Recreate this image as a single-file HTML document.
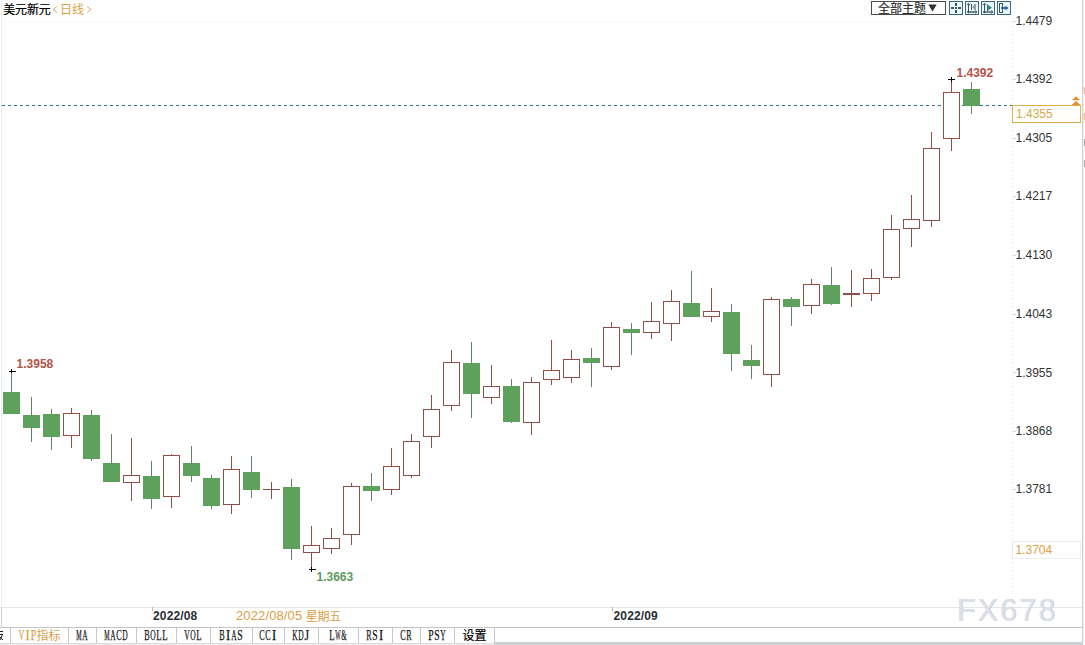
<!DOCTYPE html>
<html><head><meta charset="utf-8"><title>chart</title>
<style>
html,body{margin:0;padding:0;background:#fff;}
body{width:1085px;height:645px;overflow:hidden;font-family:"Liberation Sans",sans-serif;}
svg{display:block;}
text{font-family:"Liberation Sans",sans-serif;}
.b{font-weight:bold;}
.tab{font-family:"Liberation Serif",serif;font-size:14.5px;}
.cjk{font-family:"Liberation Sans","Noto Sans CJK SC",sans-serif;}
</style></head><body>
<svg width="1085" height="645" viewBox="0 0 1085 645">
<rect width="1085" height="645" fill="#fff"/>
<!-- faint grid -->
<rect x="1" y="0" width="1" height="607" fill="#ececec"/><rect x="1" y="607" width="1" height="20" fill="#d2d2d2"/>
<line x1="4" y1="21.5" x2="1012" y2="21.5" stroke="#f1f1f1" stroke-width="1" stroke-dasharray="2 2"/>
<line x1="1012.5" y1="18" x2="1012.5" y2="607" stroke="#efefef" stroke-width="1" stroke-dasharray="2 2"/>
<rect x="1082" y="0" width="1" height="645" fill="#d0d0d0"/><rect x="1083" y="0" width="1" height="645" fill="#f0f0f0"/>
<rect x="0" y="607" width="1082" height="1" fill="#e6e6e6"/>
<!-- title -->
<text x="3.3" y="14.2" font-size="12" class="cjk" fill="#000" stroke="#000" stroke-width="0.2" letter-spacing="-0.2">美元新元</text>
<path d="M57 6.5 L53 9.5 L57 12.5" fill="none" stroke="#dcae62" stroke-width="1"/>
<text x="60" y="14" font-size="12" class="cjk" fill="#dba046">日线</text>
<path d="M87 6.5 L91 9.5 L87 12.5" fill="none" stroke="#dcae62" stroke-width="1"/>
<!-- dropdown -->
<rect x="871.5" y="1.5" width="74" height="13" fill="#fff" stroke="#4a4a4a" stroke-width="1"/>
<text x="878" y="13" font-size="12" class="cjk" fill="#2a2a2a" stroke="#2a2a2a" stroke-width="0.15">全部主题</text>
<path d="M928.3 4.5 H936.7 L932.5 11.5Z" fill="#333"/>
<rect x="949.5" y="1.5" width="13" height="13" fill="#e8fafd" stroke="#3d6676" stroke-width="1"/>
<rect x="965.5" y="1.5" width="13" height="13" fill="#e8fafd" stroke="#3d6676" stroke-width="1"/>
<rect x="981.5" y="1.5" width="13" height="13" fill="#e8fafd" stroke="#3d6676" stroke-width="1"/>
<rect x="997.5" y="1.5" width="13" height="13" fill="#e8fafd" stroke="#3d6676" stroke-width="1"/>
<rect x="951" y="7" width="3" height="2" fill="#3f5560"/><rect x="955" y="7" width="2" height="2" fill="#3f5560"/><rect x="958" y="7" width="3" height="2" fill="#3f5560"/>
<rect x="955" y="3" width="2" height="3" fill="#3f5560"/><rect x="955" y="10" width="2" height="3" fill="#3f5560"/>
<path d="M968.5 3.5 V13.3" fill="none" stroke="#3f5560" stroke-width="1"/><path d="M967 12 H977" fill="none" stroke="#2f444e" stroke-width="1.3"/>
<path d="M967 5.2 L968.5 3.2 L970 5.2 M975.2 10.5 L977 12 L975.2 13.5" fill="none" stroke="#3f5560" stroke-width="0.9"/>
<path d="M984.5 3.5 V13.3" fill="none" stroke="#3f5560" stroke-width="1"/><path d="M983 12 H993" fill="none" stroke="#2f444e" stroke-width="1.3"/>
<path d="M983 5.2 L984.5 3.2 L986 5.2 M991.2 10.5 L993 12 L991.2 13.5" fill="none" stroke="#3f5560" stroke-width="0.9"/>
<path d="M971.5 4 V10 M975 4 V10" fill="none" stroke="#3f5560" stroke-width="1"/><path d="M974.5 4.8 L972.3 7 L974.5 9.2Z" fill="#7d949c"/>
<rect x="987" y="4.5" width="1" height="6.5" fill="#3f5560"/><path d="M987.5 4.6 L992 7.7 L987.5 10.8Z" fill="#2f8a86"/>
<rect x="999.5" y="3.5" width="3" height="9" fill="#fff" stroke="#3f5560" stroke-width="1"/>
<path d="M1001 7 H1005.3 V5.6 L1008.7 8 L1005.3 10.4 V9 H1001Z" fill="#2d6ca8"/>
<!-- dashed price line -->
<line x1="2" y1="105.5" x2="1012" y2="105.5" stroke="#2f7088" stroke-width="1" stroke-dasharray="3 3"/>
<rect x="11" y="372" width="1" height="42" fill="#61836a"/>
<rect x="3" y="392" width="17" height="22" fill="#5ea15d"/>
<rect x="31" y="397" width="1" height="45" fill="#61836a"/>
<rect x="23" y="415" width="17" height="13" fill="#5ea15d"/>
<rect x="51" y="409" width="1" height="41" fill="#61836a"/>
<rect x="43" y="414" width="17" height="23" fill="#5ea15d"/>
<rect x="71" y="408" width="1" height="5" fill="#8f4f49"/>
<rect x="71" y="436" width="1" height="12" fill="#8f4f49"/>
<rect x="63.5" y="413.5" width="16" height="22" fill="#fff" stroke="#8f4f49" stroke-width="1"/>
<rect x="91" y="410" width="1" height="51" fill="#61836a"/>
<rect x="83" y="415" width="17" height="44" fill="#5ea15d"/>
<rect x="111" y="434" width="1" height="48" fill="#61836a"/>
<rect x="103" y="463" width="17" height="19" fill="#5ea15d"/>
<rect x="131" y="438" width="1" height="37" fill="#8f4f49"/>
<rect x="131" y="483" width="1" height="18" fill="#8f4f49"/>
<rect x="123.5" y="475.5" width="16" height="7" fill="#fff" stroke="#8f4f49" stroke-width="1"/>
<rect x="151" y="461" width="1" height="48" fill="#61836a"/>
<rect x="143" y="476" width="17" height="23" fill="#5ea15d"/>
<rect x="171" y="454" width="1" height="1" fill="#8f4f49"/>
<rect x="171" y="497" width="1" height="11" fill="#8f4f49"/>
<rect x="163.5" y="455.5" width="16" height="41" fill="#fff" stroke="#8f4f49" stroke-width="1"/>
<rect x="191" y="446" width="1" height="36" fill="#61836a"/>
<rect x="183" y="463" width="17" height="13" fill="#5ea15d"/>
<rect x="211" y="475" width="1" height="34" fill="#61836a"/>
<rect x="203" y="478" width="17" height="28" fill="#5ea15d"/>
<rect x="231" y="456" width="1" height="13" fill="#8f4f49"/>
<rect x="231" y="505" width="1" height="9" fill="#8f4f49"/>
<rect x="223.5" y="469.5" width="16" height="35" fill="#fff" stroke="#8f4f49" stroke-width="1"/>
<rect x="251" y="456" width="1" height="42" fill="#61836a"/>
<rect x="243" y="472" width="17" height="18" fill="#5ea15d"/>
<rect x="271" y="482" width="1" height="17" fill="#8f4f49"/>
<rect x="263" y="489" width="17" height="1" fill="#8f4f49"/>
<rect x="291" y="479" width="1" height="81" fill="#61836a"/>
<rect x="283" y="487" width="17" height="62" fill="#5ea15d"/>
<rect x="311" y="526" width="1" height="19" fill="#8f4f49"/>
<rect x="311" y="553" width="1" height="17" fill="#8f4f49"/>
<rect x="303.5" y="545.5" width="16" height="7" fill="#fff" stroke="#8f4f49" stroke-width="1"/>
<rect x="331" y="528" width="1" height="10" fill="#8f4f49"/>
<rect x="331" y="549" width="1" height="5" fill="#8f4f49"/>
<rect x="323.5" y="538.5" width="16" height="10" fill="#fff" stroke="#8f4f49" stroke-width="1"/>
<rect x="351" y="483" width="1" height="3" fill="#8f4f49"/>
<rect x="351" y="535" width="1" height="10" fill="#8f4f49"/>
<rect x="343.5" y="486.5" width="16" height="48" fill="#fff" stroke="#8f4f49" stroke-width="1"/>
<rect x="371" y="473" width="1" height="28" fill="#61836a"/>
<rect x="363" y="486" width="17" height="5" fill="#5ea15d"/>
<rect x="391" y="448" width="1" height="18" fill="#8f4f49"/>
<rect x="391" y="490" width="1" height="5" fill="#8f4f49"/>
<rect x="383.5" y="466.5" width="16" height="23" fill="#fff" stroke="#8f4f49" stroke-width="1"/>
<rect x="411" y="434" width="1" height="7" fill="#8f4f49"/>
<rect x="411" y="476" width="1" height="2" fill="#8f4f49"/>
<rect x="403.5" y="441.5" width="16" height="34" fill="#fff" stroke="#8f4f49" stroke-width="1"/>
<rect x="431" y="395" width="1" height="14" fill="#8f4f49"/>
<rect x="431" y="437" width="1" height="11" fill="#8f4f49"/>
<rect x="423.5" y="409.5" width="16" height="27" fill="#fff" stroke="#8f4f49" stroke-width="1"/>
<rect x="451" y="350" width="1" height="12" fill="#8f4f49"/>
<rect x="451" y="406" width="1" height="5" fill="#8f4f49"/>
<rect x="443.5" y="362.5" width="16" height="43" fill="#fff" stroke="#8f4f49" stroke-width="1"/>
<rect x="471" y="342" width="1" height="76" fill="#61836a"/>
<rect x="463" y="363" width="17" height="31" fill="#5ea15d"/>
<rect x="491" y="365" width="1" height="21" fill="#8f4f49"/>
<rect x="491" y="398" width="1" height="6" fill="#8f4f49"/>
<rect x="483.5" y="386.5" width="16" height="11" fill="#fff" stroke="#8f4f49" stroke-width="1"/>
<rect x="511" y="379" width="1" height="44" fill="#61836a"/>
<rect x="503" y="386" width="17" height="36" fill="#5ea15d"/>
<rect x="531" y="377" width="1" height="5" fill="#8f4f49"/>
<rect x="531" y="423" width="1" height="12" fill="#8f4f49"/>
<rect x="523.5" y="382.5" width="16" height="40" fill="#fff" stroke="#8f4f49" stroke-width="1"/>
<rect x="551" y="340" width="1" height="30" fill="#8f4f49"/>
<rect x="551" y="380" width="1" height="5" fill="#8f4f49"/>
<rect x="543.5" y="370.5" width="16" height="9" fill="#fff" stroke="#8f4f49" stroke-width="1"/>
<rect x="571" y="350" width="1" height="9" fill="#8f4f49"/>
<rect x="571" y="378" width="1" height="5" fill="#8f4f49"/>
<rect x="563.5" y="359.5" width="16" height="18" fill="#fff" stroke="#8f4f49" stroke-width="1"/>
<rect x="591" y="348" width="1" height="39" fill="#61836a"/>
<rect x="583" y="358" width="17" height="5" fill="#5ea15d"/>
<rect x="611" y="322" width="1" height="5" fill="#8f4f49"/>
<rect x="611" y="367" width="1" height="3" fill="#8f4f49"/>
<rect x="603.5" y="327.5" width="16" height="39" fill="#fff" stroke="#8f4f49" stroke-width="1"/>
<rect x="631" y="323" width="1" height="32" fill="#61836a"/>
<rect x="623" y="329" width="17" height="4" fill="#5ea15d"/>
<rect x="651" y="302" width="1" height="19" fill="#8f4f49"/>
<rect x="651" y="333" width="1" height="6" fill="#8f4f49"/>
<rect x="643.5" y="321.5" width="16" height="11" fill="#fff" stroke="#8f4f49" stroke-width="1"/>
<rect x="671" y="290" width="1" height="11" fill="#8f4f49"/>
<rect x="671" y="324" width="1" height="17" fill="#8f4f49"/>
<rect x="663.5" y="301.5" width="16" height="22" fill="#fff" stroke="#8f4f49" stroke-width="1"/>
<rect x="691" y="271" width="1" height="46" fill="#61836a"/>
<rect x="683" y="303" width="17" height="14" fill="#5ea15d"/>
<rect x="711" y="288" width="1" height="23" fill="#8f4f49"/>
<rect x="711" y="317" width="1" height="5" fill="#8f4f49"/>
<rect x="703.5" y="311.5" width="16" height="5" fill="#fff" stroke="#8f4f49" stroke-width="1"/>
<rect x="731" y="304" width="1" height="67" fill="#61836a"/>
<rect x="723" y="312" width="17" height="42" fill="#5ea15d"/>
<rect x="751" y="345" width="1" height="34" fill="#61836a"/>
<rect x="743" y="360" width="17" height="6" fill="#5ea15d"/>
<rect x="771" y="297" width="1" height="2" fill="#8f4f49"/>
<rect x="771" y="375" width="1" height="12" fill="#8f4f49"/>
<rect x="763.5" y="299.5" width="16" height="75" fill="#fff" stroke="#8f4f49" stroke-width="1"/>
<rect x="791" y="297" width="1" height="29" fill="#61836a"/>
<rect x="783" y="299" width="17" height="8" fill="#5ea15d"/>
<rect x="811" y="279" width="1" height="5" fill="#8f4f49"/>
<rect x="811" y="306" width="1" height="8" fill="#8f4f49"/>
<rect x="803.5" y="284.5" width="16" height="21" fill="#fff" stroke="#8f4f49" stroke-width="1"/>
<rect x="831" y="267" width="1" height="38" fill="#61836a"/>
<rect x="823" y="285" width="17" height="19" fill="#5ea15d"/>
<rect x="851" y="270" width="1" height="37" fill="#8f4f49"/>
<rect x="843" y="293" width="17" height="2" fill="#8f4f49"/>
<rect x="871" y="269" width="1" height="9" fill="#8f4f49"/>
<rect x="871" y="294" width="1" height="7" fill="#8f4f49"/>
<rect x="863.5" y="278.5" width="16" height="15" fill="#fff" stroke="#8f4f49" stroke-width="1"/>
<rect x="891" y="215" width="1" height="14" fill="#8f4f49"/>
<rect x="891" y="278" width="1" height="2" fill="#8f4f49"/>
<rect x="883.5" y="229.5" width="16" height="48" fill="#fff" stroke="#8f4f49" stroke-width="1"/>
<rect x="911" y="195" width="1" height="24" fill="#8f4f49"/>
<rect x="911" y="229" width="1" height="18" fill="#8f4f49"/>
<rect x="903.5" y="219.5" width="16" height="9" fill="#fff" stroke="#8f4f49" stroke-width="1"/>
<rect x="931" y="132" width="1" height="16" fill="#8f4f49"/>
<rect x="931" y="221" width="1" height="6" fill="#8f4f49"/>
<rect x="923.5" y="148.5" width="16" height="72" fill="#fff" stroke="#8f4f49" stroke-width="1"/>
<rect x="951" y="80" width="1" height="12" fill="#8f4f49"/>
<rect x="951" y="139" width="1" height="12" fill="#8f4f49"/>
<rect x="943.5" y="92.5" width="16" height="46" fill="#fff" stroke="#8f4f49" stroke-width="1"/>
<rect x="971" y="82" width="1" height="32" fill="#61836a"/>
<rect x="963" y="89" width="17" height="17" fill="#5ea15d"/>
<!-- markers -->
<path d="M9 371.5 H16 M11.5 369 V373" stroke="#000" stroke-width="1" fill="none"/>
<text x="16.6" y="368" font-size="12" class="b" fill="#b5524a">1.3958</text>
<path d="M309 569.5 H316 M311.5 567 V572" stroke="#000" stroke-width="1" fill="none"/>
<text x="316.5" y="581" font-size="12" class="b" fill="#5e9a62">1.3663</text>
<path d="M948 79.5 H955 M951.5 77 V82" stroke="#000" stroke-width="1" fill="none"/>
<text x="956.5" y="77" font-size="12" class="b" fill="#b5524a">1.4392</text>
<!-- y axis -->
<rect x="1013" y="21" width="3" height="1" fill="#d5d5d5"/>
<text x="1015.5" y="25.3" font-size="12" fill="#333">1.4479</text>
<rect x="1013" y="79" width="3" height="1" fill="#d5d5d5"/>
<text x="1015.5" y="83.3" font-size="12" fill="#333">1.4392</text>
<rect x="1013" y="138" width="3" height="1" fill="#d5d5d5"/>
<text x="1015.5" y="142.3" font-size="12" fill="#333">1.4305</text>
<rect x="1013" y="196" width="3" height="1" fill="#d5d5d5"/>
<text x="1015.5" y="200.3" font-size="12" fill="#333">1.4217</text>
<rect x="1013" y="255" width="3" height="1" fill="#d5d5d5"/>
<text x="1015.5" y="259.3" font-size="12" fill="#333">1.4130</text>
<rect x="1013" y="314" width="3" height="1" fill="#d5d5d5"/>
<text x="1015.5" y="318.3" font-size="12" fill="#333">1.4043</text>
<rect x="1013" y="372" width="3" height="1" fill="#d5d5d5"/>
<text x="1015.5" y="376.8" font-size="12" fill="#333">1.3955</text>
<rect x="1013" y="431" width="3" height="1" fill="#d5d5d5"/>
<text x="1015.5" y="435.3" font-size="12" fill="#333">1.3868</text>
<rect x="1013" y="489" width="3" height="1" fill="#d5d5d5"/>
<text x="1015.5" y="493.3" font-size="12" fill="#333">1.3781</text>
<rect x="1012.5" y="105.5" width="68" height="17" fill="#fffef8" stroke="#dcae4e" stroke-width="1"/>
<text x="1016" y="118" font-size="12" fill="#d2aa55">1.4355</text>
<path d="M1076 96.3 L1080.2 100.2 H1071.8Z M1076 101 L1080.4 105 H1071.6Z" fill="#e48f35"/>
<rect x="1012.5" y="541.5" width="68" height="17" fill="none" stroke="#ececec" stroke-width="1"/>
<text x="1015.5" y="554" font-size="12" fill="#e3a043">1.3704</text>
<!-- right clipped marks -->
<rect x="1083.5" y="87" width="1.5" height="7" fill="#ebc3a6"/><rect x="1083.5" y="113" width="1.5" height="7" fill="#ebc3a6"/>
<rect x="1084" y="139" width="1" height="7" fill="#aaa"/><rect x="1084" y="160" width="1" height="7" fill="#aaa"/>
<!-- x axis -->
<rect x="152" y="607" width="1" height="4" fill="#bbb"/>
<text x="153" y="620" font-size="12" class="b" fill="#2a2f38" letter-spacing="0.15">2022/08</text>
<text x="236" y="620.3" font-size="13" fill="#dba046" letter-spacing="0.12">2022/08/05</text>
<text x="305.8" y="620.5" font-size="12" class="cjk" fill="#dba046" letter-spacing="-0.3">星期五</text>
<rect x="612" y="607" width="1" height="4" fill="#bbb"/>
<text x="613.5" y="620" font-size="12" class="b" fill="#2a2f38" letter-spacing="0.15">2022/09</text>
<!-- watermark -->
<text x="957.2" y="621.2" font-size="30.5" fill="#c3c8d1" letter-spacing="2.2">FX678</text><text x="956.5" y="620.5" font-size="30.5" fill="#dde1e9" letter-spacing="2.2">FX678</text>
<rect x="0" y="627" width="1083" height="1" fill="#c4c4c4"/>
<rect x="0" y="643" width="495" height="1" fill="#dcdcdc"/><rect x="0" y="644" width="495" height="1" fill="#ececec"/>
<rect x="495" y="642" width="588" height="3" fill="#cdd1d5"/>
<rect x="10" y="628" width="1" height="15" fill="#c8c8c8"/>
<rect x="68" y="628" width="1" height="15" fill="#c8c8c8"/>
<text x="18.8" y="640" class="tab" fill="#dba046" stroke="#dba046" stroke-width="0.25" textLength="5.4" lengthAdjust="spacingAndGlyphs">V</text><text x="25.4" y="640" class="tab" fill="#dba046" stroke="#dba046" stroke-width="0.25" textLength="4.2" lengthAdjust="spacingAndGlyphs">I</text><text x="30.8" y="640" class="tab" fill="#dba046" stroke="#dba046" stroke-width="0.25" textLength="5.4" lengthAdjust="spacingAndGlyphs">P</text>
<text x="36.5" y="639.7" font-size="12" class="cjk" fill="#dba046">指标</text>
<rect x="96" y="628" width="1" height="15" fill="#c8c8c8"/>
<text x="76.3" y="640" class="tab" fill="#111" stroke="#111" stroke-width="0.25" textLength="5.4" lengthAdjust="spacingAndGlyphs">M</text><text x="82.3" y="640" class="tab" fill="#111" stroke="#111" stroke-width="0.25" textLength="5.4" lengthAdjust="spacingAndGlyphs">A</text>
<rect x="136" y="628" width="1" height="15" fill="#c8c8c8"/>
<text x="104.3" y="640" class="tab" fill="#111" stroke="#111" stroke-width="0.25" textLength="5.4" lengthAdjust="spacingAndGlyphs">M</text><text x="110.3" y="640" class="tab" fill="#111" stroke="#111" stroke-width="0.25" textLength="5.4" lengthAdjust="spacingAndGlyphs">A</text><text x="116.3" y="640" class="tab" fill="#111" stroke="#111" stroke-width="0.25" textLength="5.4" lengthAdjust="spacingAndGlyphs">C</text><text x="122.3" y="640" class="tab" fill="#111" stroke="#111" stroke-width="0.25" textLength="5.4" lengthAdjust="spacingAndGlyphs">D</text>
<rect x="176" y="628" width="1" height="15" fill="#c8c8c8"/>
<text x="144.3" y="640" class="tab" fill="#111" stroke="#111" stroke-width="0.25" textLength="5.4" lengthAdjust="spacingAndGlyphs">B</text><text x="150.3" y="640" class="tab" fill="#111" stroke="#111" stroke-width="0.25" textLength="5.4" lengthAdjust="spacingAndGlyphs">O</text><text x="156.3" y="640" class="tab" fill="#111" stroke="#111" stroke-width="0.25" textLength="5.4" lengthAdjust="spacingAndGlyphs">L</text><text x="162.3" y="640" class="tab" fill="#111" stroke="#111" stroke-width="0.25" textLength="5.4" lengthAdjust="spacingAndGlyphs">L</text>
<rect x="210" y="628" width="1" height="15" fill="#c8c8c8"/>
<text x="184.3" y="640" class="tab" fill="#111" stroke="#111" stroke-width="0.25" textLength="5.4" lengthAdjust="spacingAndGlyphs">V</text><text x="190.3" y="640" class="tab" fill="#111" stroke="#111" stroke-width="0.25" textLength="5.4" lengthAdjust="spacingAndGlyphs">O</text><text x="196.3" y="640" class="tab" fill="#111" stroke="#111" stroke-width="0.25" textLength="5.4" lengthAdjust="spacingAndGlyphs">L</text>
<rect x="252" y="628" width="1" height="15" fill="#c8c8c8"/>
<text x="219.3" y="640" class="tab" fill="#111" stroke="#111" stroke-width="0.25" textLength="5.4" lengthAdjust="spacingAndGlyphs">B</text><text x="225.9" y="640" class="tab" fill="#111" stroke="#111" stroke-width="0.25" textLength="4.2" lengthAdjust="spacingAndGlyphs">I</text><text x="231.3" y="640" class="tab" fill="#111" stroke="#111" stroke-width="0.25" textLength="5.4" lengthAdjust="spacingAndGlyphs">A</text><text x="237.3" y="640" class="tab" fill="#111" stroke="#111" stroke-width="0.25" textLength="5.4" lengthAdjust="spacingAndGlyphs">S</text>
<rect x="284" y="628" width="1" height="15" fill="#c8c8c8"/>
<text x="259.3" y="640" class="tab" fill="#111" stroke="#111" stroke-width="0.25" textLength="5.4" lengthAdjust="spacingAndGlyphs">C</text><text x="265.3" y="640" class="tab" fill="#111" stroke="#111" stroke-width="0.25" textLength="5.4" lengthAdjust="spacingAndGlyphs">C</text><text x="271.9" y="640" class="tab" fill="#111" stroke="#111" stroke-width="0.25" textLength="4.2" lengthAdjust="spacingAndGlyphs">I</text>
<rect x="318" y="628" width="1" height="15" fill="#c8c8c8"/>
<text x="292.3" y="640" class="tab" fill="#111" stroke="#111" stroke-width="0.25" textLength="5.4" lengthAdjust="spacingAndGlyphs">K</text><text x="298.3" y="640" class="tab" fill="#111" stroke="#111" stroke-width="0.25" textLength="5.4" lengthAdjust="spacingAndGlyphs">D</text><text x="304.5" y="640" class="tab" fill="#111" stroke="#111" stroke-width="0.25" textLength="4.6" lengthAdjust="spacingAndGlyphs">J</text>
<rect x="358" y="628" width="1" height="15" fill="#c8c8c8"/>
<text x="329.3" y="640" class="tab" fill="#111" stroke="#111" stroke-width="0.25" textLength="5.4" lengthAdjust="spacingAndGlyphs">L</text><text x="335.3" y="640" class="tab" fill="#111" stroke="#111" stroke-width="0.25" textLength="5.4" lengthAdjust="spacingAndGlyphs">W</text><text x="341.3" y="640" class="tab" fill="#111" stroke="#111" stroke-width="0.25" textLength="5.4" lengthAdjust="spacingAndGlyphs">&amp;</text>
<rect x="392" y="628" width="1" height="15" fill="#c8c8c8"/>
<text x="366.3" y="640" class="tab" fill="#111" stroke="#111" stroke-width="0.25" textLength="5.4" lengthAdjust="spacingAndGlyphs">R</text><text x="372.3" y="640" class="tab" fill="#111" stroke="#111" stroke-width="0.25" textLength="5.4" lengthAdjust="spacingAndGlyphs">S</text><text x="378.9" y="640" class="tab" fill="#111" stroke="#111" stroke-width="0.25" textLength="4.2" lengthAdjust="spacingAndGlyphs">I</text>
<rect x="420" y="628" width="1" height="15" fill="#c8c8c8"/>
<text x="400.3" y="640" class="tab" fill="#111" stroke="#111" stroke-width="0.25" textLength="5.4" lengthAdjust="spacingAndGlyphs">C</text><text x="406.3" y="640" class="tab" fill="#111" stroke="#111" stroke-width="0.25" textLength="5.4" lengthAdjust="spacingAndGlyphs">R</text>
<rect x="454" y="628" width="1" height="15" fill="#c8c8c8"/>
<text x="428.3" y="640" class="tab" fill="#111" stroke="#111" stroke-width="0.25" textLength="5.4" lengthAdjust="spacingAndGlyphs">P</text><text x="434.3" y="640" class="tab" fill="#111" stroke="#111" stroke-width="0.25" textLength="5.4" lengthAdjust="spacingAndGlyphs">S</text><text x="440.3" y="640" class="tab" fill="#111" stroke="#111" stroke-width="0.25" textLength="5.4" lengthAdjust="spacingAndGlyphs">Y</text>
<rect x="494" y="628" width="1" height="15" fill="#c8c8c8"/>
<text x="462.5" y="639.9" font-size="12" class="cjk" fill="#000" stroke="#000" stroke-width="0.2">设置</text>
<path d="M0 631.5 H3 M0 634.5 H2.5 M2.5 634 L0.5 640 M0 637 L3 640" stroke="#222" stroke-width="1" fill="none"/>
</svg>
</body></html>
